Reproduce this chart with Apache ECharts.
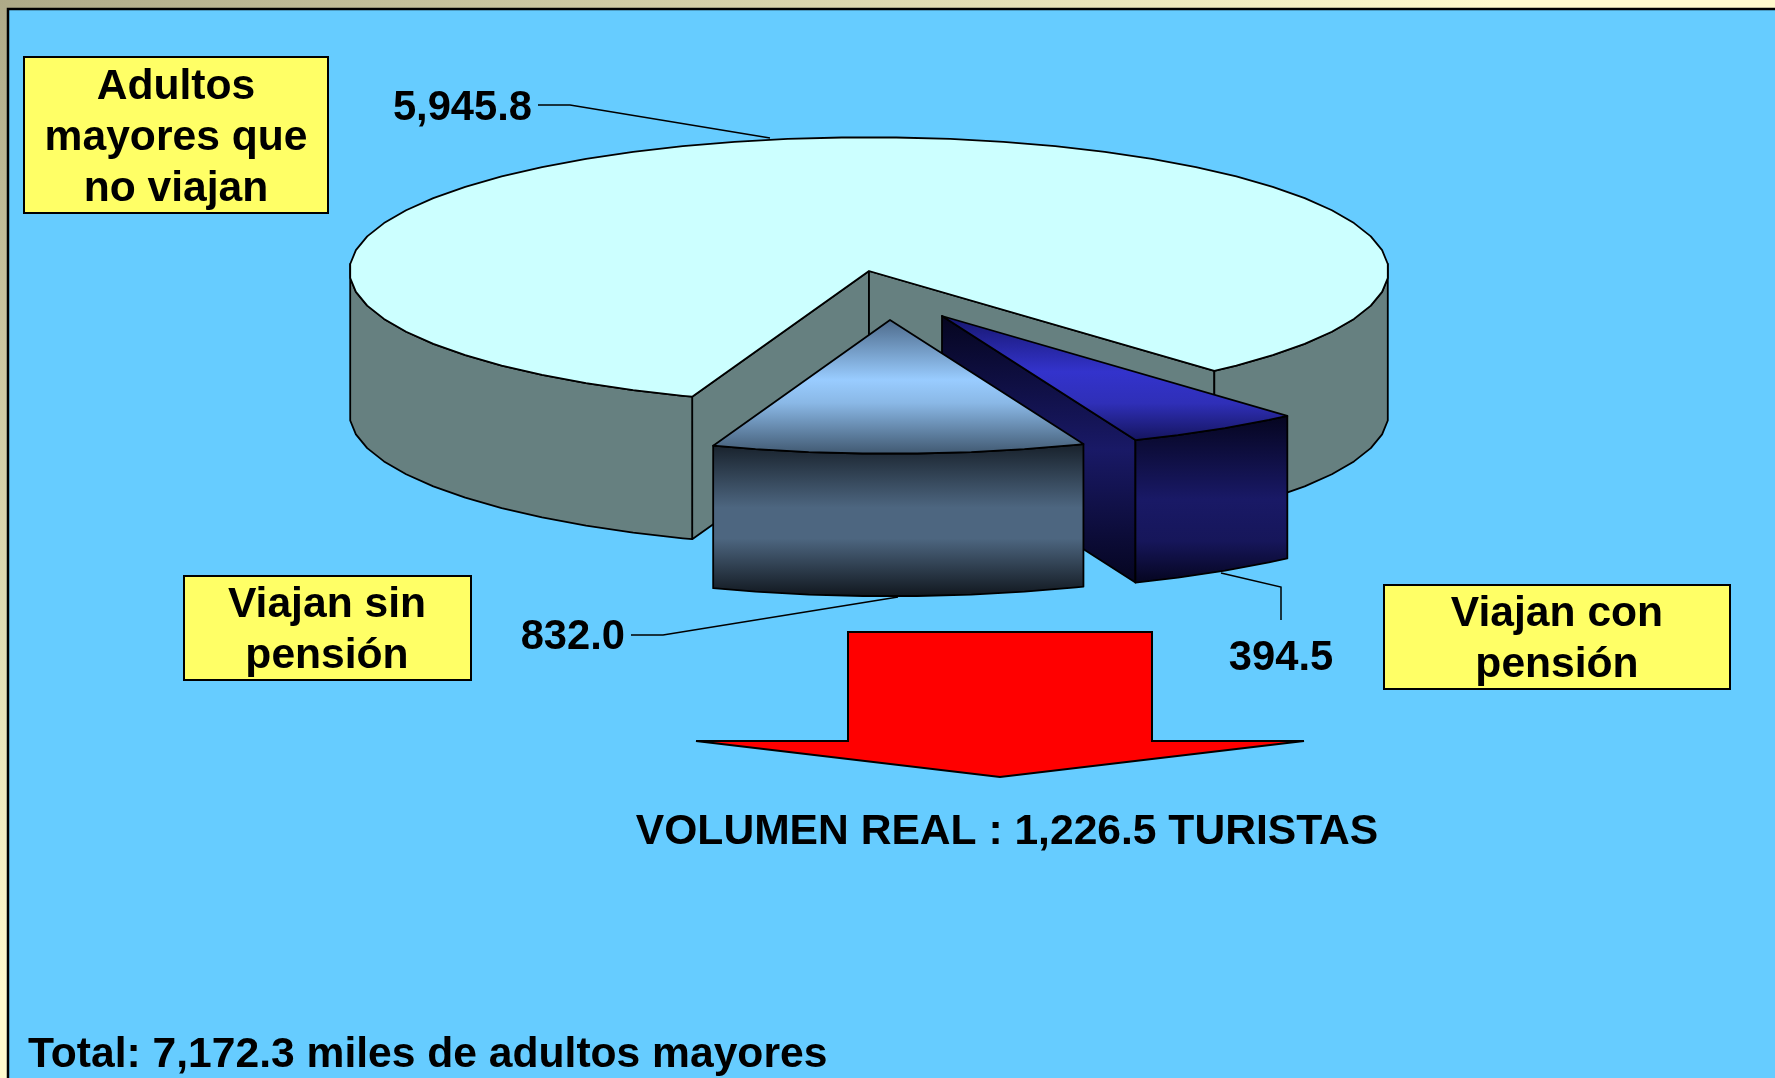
<!DOCTYPE html>
<html>
<head>
<meta charset="utf-8">
<title>Volumen real de turistas</title>
<script src="https://cdn.jsdelivr.net/npm/echarts@6/dist/echarts.min.js"></script>
<style>
  html, body { margin: 0; padding: 0; background: #66ccff; }
  #grafica { width: 1775px; height: 1078px; }
</style>
</head>
<body>
<div id="grafica"></div>
<script>
// Datos
const categorias = ['Adultos\nmayores que\nno viajan', 'Viajan con\npensión', 'Viajan sin\npensión'];
const valores = [5945.8, 394.5, 832.0];
const textoVolumen = 'VOLUMEN REAL : 1,226.5 TURISTAS';
const textoTotal = 'Total: 7,172.3 miles de adultos mayores';

// Geometria del pastel (centro, radios, profundidad, angulo inicial en grados, horario desde las 12)
const cx = 869, cy = 271, rx = 519.5, ry = 133.7, prof = 142.5;
const anguloInicial = 199.9;
const pasoArco = 6;
const desplazamiento = [[0, 0], [73, 45], [21, 49]];

const total = valores.reduce((a, b) => a + b, 0);
const fuente = 'bold 42.6px "Liberation Sans", Arial, sans-serif';
const fuenteNumero = 'bold 41.7px "Liberation Sans", Arial, sans-serif';

function vGrad(stops) {
  return {
    type: 'linear', x: 0, y: 0, x2: 0, y2: 1,
    colorStops: stops.map(s => ({ offset: s[0], color: s[1] }))
  };
}

const estilos = [
  { tapa: '#ccffff', pared: '#668080', cara: '#668080' },
  {
    tapa: vGrad([[0, '#16166b'], [0.45, '#3333cc'], [0.7, '#2f2fb8'], [1, '#14145c']]),
    pared: vGrad([[0, '#05051f'], [0.5, '#191966'], [0.75, '#16165a'], [1, '#05051f']]),
    cara: vGrad([[0, '#05051f'], [0.5, '#191966'], [1, '#05051f']])
  },
  {
    tapa: vGrad([[0, '#4d6a8a'], [0.45, '#99ccff'], [0.62, '#8ab8e6'], [1, '#405870']]),
    pared: vGrad([[0, '#17202a'], [0.42, '#4d6680'], [0.62, '#4d6680'], [1, '#10161d']]),
    cara: '#4d6680'
  }
];

// Punto sobre la elipse para un angulo dado
function punto(theta, dx, dy) {
  const r = theta * Math.PI / 180;
  return [cx + dx + rx * Math.sin(r), cy + dy - ry * Math.cos(r)];
}

// Puntos del arco, en tramos rectos como en el original
function arco(a0, a1, dx, dy) {
  const pts = [punto(a0, dx, dy)];
  let g = Math.ceil((a0 - 3) / pasoArco) * pasoArco + 3;
  for (; g < a1; g += pasoArco) {
    if (g > a0) pts.push(punto(g, dx, dy));
  }
  pts.push(punto(a1, dx, dy));
  return pts;
}

function poligono(points, fill) {
  return {
    type: 'polygon',
    shape: { points: points },
    style: { fill: fill, stroke: '#000', lineWidth: 1.8, lineJoin: 'round' }
  };
}

function renderRebanada(params, api) {
  const i = params.dataIndex;
  const antes = valores.slice(0, i).reduce((a, b) => a + b, 0);
  const a0 = anguloInicial + antes / total * 360;
  const a1 = a0 + api.value(0) / total * 360;
  const dx = desplazamiento[i][0], dy = desplazamiento[i][1];
  const est = estilos[i];
  const centro = [cx + dx, cy + dy];
  const hijos = [];

  // caras radiales visibles, primero para que la pared quede encima
  const cara = a => {
    const p = punto(a, dx, dy);
    return poligono([centro, p, [p[0], p[1] + prof], [centro[0], centro[1] + prof]], est.cara);
  };
  if (i === 0) hijos.push(cara(a0));
  if (i !== 2) hijos.push(cara(a1));

  // pared exterior, solo lo que mira al frente
  [0, 360].forEach(k => {
    const lo = Math.max(a0, 87 + k), hi = Math.min(a1, 273 + k);
    if (lo < hi) {
      const arriba = arco(lo, hi, dx, dy);
      const abajo = arco(lo, hi, dx, dy + prof).reverse();
      hijos.push(poligono(arriba.concat(abajo), est.pared));
    }
  });

  hijos.push(poligono([centro].concat(arco(a0, a1, dx, dy)), est.tapa));
  return { type: 'group', children: hijos };
}

function caja(x, y, w, h, texto, tx, ty) {
  return [
    { type: 'rect', z: 10, shape: { x: x, y: y, width: w, height: h }, style: { fill: '#ffff66', stroke: '#000', lineWidth: 2 } },
    {
      type: 'text', z: 11, x: tx, y: ty,
      style: { text: texto, font: fuente, fill: '#000', align: 'center', verticalAlign: 'middle', lineHeight: 51 }
    }
  ];
}

function linea(points) {
  return { type: 'polyline', z: 10, shape: { points: points }, style: { stroke: '#000', lineWidth: 1.5, fill: null } };
}

function rotulo(x, y, texto, align, font) {
  return {
    type: 'text', z: 11, x: x, y: y,
    style: { text: texto, font: font || fuenteNumero, fill: '#000', align: align, verticalAlign: 'middle' }
  };
}

const numero = v => v.toLocaleString('en-US', { minimumFractionDigits: 1, maximumFractionDigits: 1 });

const graficos = [
  // marco
  {
    type: 'rect', z: -3, shape: { x: 0, y: 0, width: 1775, height: 1078 },
    style: {
      fill: {
        type: 'linear', x: 0, y: 0, x2: 461, y2: 692, global: true,
        colorStops: [{ offset: 0, color: '#aeaa88' }, { offset: 1, color: '#fffacd' }]
      }
    }
  },
  { type: 'rect', z: -2, shape: { x: 8, y: 9, width: 1800, height: 1100 }, style: { fill: '#66ccff', stroke: '#000', lineWidth: 2.5 } },

  linea([[538, 105], [570, 105], [770, 138]]),
  linea([[631, 635], [663, 635], [898, 597]]),
  linea([[1221, 573], [1281, 587], [1281, 620]]),

  rotulo(532, 109, numero(valores[0]), 'right'),
  rotulo(625, 638, numero(valores[2]), 'right'),
  rotulo(1281, 659, numero(valores[1]), 'center'),

  // flecha
  {
    type: 'polygon', z: 10,
    shape: { points: [[848, 632], [1152, 632], [1152, 741], [1304, 741], [1000, 777], [696, 741], [848, 741]] },
    style: { fill: '#ff0000', stroke: '#000', lineWidth: 2 }
  },
  rotulo(1007, 832, textoVolumen, 'center', fuente),
  rotulo(28, 1055, textoTotal, 'left', fuente)
].concat(
  caja(24, 57, 304, 156, categorias[0], 176, 138),
  caja(184, 576, 287, 104, categorias[2], 327, 631),
  caja(1384, 585, 346, 104, categorias[1], 1557, 640)
);

const miGrafica = echarts.init(document.getElementById('grafica'));

const option = {
  animation: false,
  graphic: { elements: graficos },
  series: [
    {
      type: 'custom',
      coordinateSystem: 'none',
      silent: true,
      renderItem: renderRebanada,
      data: valores.map((v, i) => ({ name: categorias[i], value: [v] }))
    }
  ]
};

miGrafica.setOption(option);
</script>
</body>
</html>
